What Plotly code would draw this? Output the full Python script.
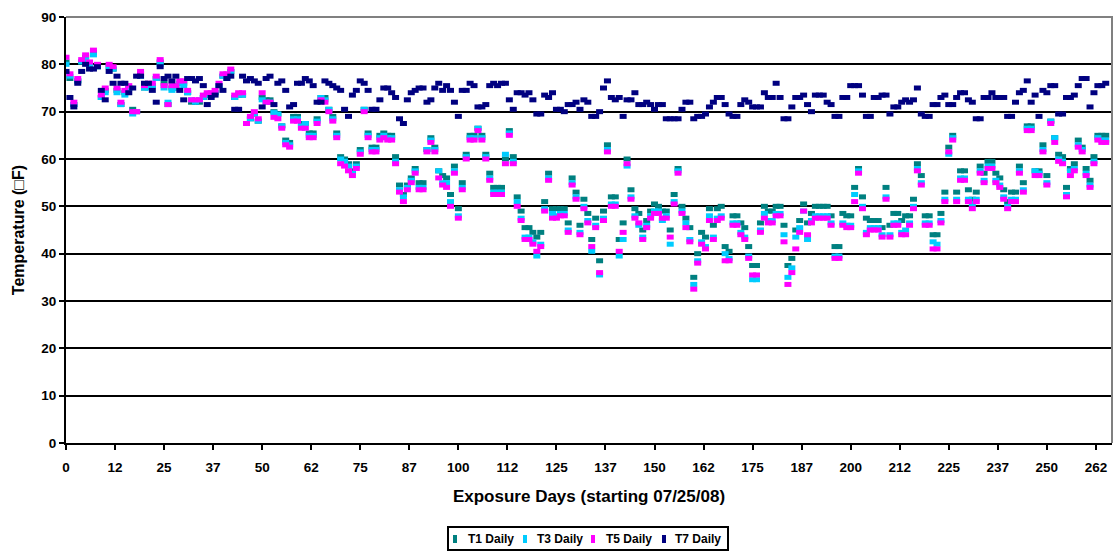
import plotly.graph_objects as go

days = list(range(266))

t7 = [78.5,73,71,76,78.5,80,79,79,79.5,74.5,72.5,78.5,76,77.5,76,76,74,75,77.5,77.5,
      76,76,74.5,72,79.5,77,77.5,76.5,77.5,74.5,72.5,77,77,76.5,77,75.5,71.5,73,73.5,75.5,
      74.5,77,77.5,70.5,70.5,77.5,76.5,77,76.5,76,71,77,77.5,71.5,76,76.5,74.5,71,71.5,76,
      76,77,76.5,75.5,72,72,76.5,76,75.5,75,74.5,70.5,69,73.5,74.5,76.5,76,74.5,70.5,70.5,
      72.5,75,75,74,73,68.5,67.5,72.5,74,74.5,75,75,72,72.5,75,76,74.5,75.5,74.5,72,
      69,74.5,74.5,76,75.5,71,71,71.5,75.5,76,75.5,76,76,72.5,70.5,74,74,73.5,74,72.5,
      69.5,69.5,73.5,73,74,70.5,70.5,70,71.5,71.5,72,70.5,72.5,72,69,69,70,75,76.5,73,
      72.5,73,69,72.5,72.5,74,71.5,71.5,72,71.5,70.5,71.5,71.5,68.5,68.5,68.5,68.5,70.5,72,72,
      68.5,69,69,69.5,71,72,73,73,71.5,69.5,69,69,71.5,72.5,72,71,71,71,74,73,
      73,76,73,68.5,68.5,71,73,73,73.5,71.5,70,73.5,73.5,73.5,72,71.5,69,69,73,73,
      75.5,75.5,75.5,73.5,69,69,73,73,73.5,73.5,69.5,71,71,72,72.5,72,72.5,75,69.5,69,
      69,71.5,71.5,73,73.5,71.5,71.5,73,74,74,72.5,72,68.5,68.5,73,73,74,73,73,73,
      69,69,72,74,74.5,76.5,72,73.5,69,74.5,74,75.5,75.5,69.5,69.5,73,73,73.5,75.5,77,
      77,71,74,75.5,75.5,76]

t5 = [81.5,78,72,77,81,82,80.5,83,80,73.5,75,80,79.5,75,72,74.5,75.5,70,70,78.5,
      75.5,76,76,77.5,81,75.5,71.5,75.5,75.5,76.5,76.5,74.5,72.5,72.5,72.5,73.5,74,74,74.5,76,
      78,78,79,73.5,74,74,67.5,69,70,68.5,74,72,72,68.8,68.5,66.5,63,62.5,68,68,
      66.5,66.5,64.5,64.5,67.5,72.5,72,70,68,64.5,59,58.5,57.5,56.5,58,61,70,64.5,61.5,61.5,
      64,64.5,64,64,59,53,51,53.5,55,57,53.5,53.5,61.5,63.5,61.5,56,54.5,54,50,57,
      47.5,53.5,60,64,64,66,64,60,55.5,52.5,52.5,52.5,59,65,59,50,47,43,43,42,
      40.5,41.5,49,55.5,47.5,47.5,48,48,44.5,54.5,51.5,44,49.5,46.5,41.5,45.5,36,47,61.5,50,
      50,40.5,44.5,59,51.5,47.5,46.5,43,45.5,47.5,48.5,48.5,47.5,47.5,43.5,50.5,57,48.5,45.5,42.5,
      32.5,38,42,41,47,43,47,47.5,38.5,38.5,46,46,44,43,39,35.5,35.5,44.5,47.5,46.5,
      46.5,48,48,42.5,33.5,36,41,44.5,49,44,46.5,47.5,47.5,47.5,47.5,46,39,39,46,45.5,
      45.5,51,57,49.5,44,45,45,45,43.5,51.5,43.5,46,46,44,44,46,49.5,57.5,54.5,46,
      46,41,41,46.5,51,61.5,64,51,55.5,55.5,51,49.5,51,57,55,58,58,55,54,51.5,
      49.5,51,51,57,53,66,66,56.5,56.5,61.5,54.5,67.5,63.5,59.5,59,52,56.5,57.5,62.5,61.5,
      56.5,54,59,64,63.5,63.5]

t3 = [80,77.5,71.5,76.5,80.5,81,80,82,79.5,73,74,79.5,79,74,71.5,73.5,75,69.5,70,77.5,
      75,75,75.5,77,80,75,72,74.5,75,76,75.5,74,72.5,72,72.5,73,73.5,73.5,74,75.5,
      77.5,77,78.5,73,73.5,73.5,67.5,68.5,69.5,68,72.5,72,72,69.8,69.5,67,63.5,63,68.5,68.5,
      67,67.5,65,65,68,73,72.5,70.5,68.5,65,60,59.5,58.5,57,58.5,61.5,70.5,65,62,62,
      64.5,65,64.5,64.5,59.5,53.5,52,54,55.5,57.5,54,54,62,64,62,57.5,55,55,51,57.5,
      48,54,60.5,64.5,64.5,66.5,64.5,60.5,56,53,53,53,61,65.5,59.5,51,47.5,43.5,43.5,42.5,
      39.5,42,49.5,56,48.5,48,48.5,48.5,45,55,52,44.5,50,47,40.5,46,35.5,47.5,62,50.5,
      50.5,39.5,43,58.5,52,48,46,43.5,46,48,49,49,47,48,42,51,57.5,49,46.5,43,
      33.5,38.5,42.5,41.5,48,43.5,47.5,48,40,39,46.5,46.5,44.5,43.5,39.5,34.5,34.5,45,48.5,47,
      47,48.5,48.5,44,35,37,43.5,45.5,49,43,47,48,48,48,48,46.5,39.5,39.5,46.5,46,
      46,52.5,57.5,50,44.5,45.5,45.5,45.5,44,52,44,46.5,46.5,44.5,45,46.5,50,58,55,46.5,
      46.5,42.5,42,47,51.5,61,64.5,51.5,56,56,51.5,50.5,51.5,57.5,55.5,58.5,58.5,55.5,54.5,52,
      50,51.5,51.5,57.5,53.5,66.5,66.5,57.5,57,62,55,68,64.5,60,59.5,52.5,57.5,58,63,62,
      57,54.5,59.5,64.5,64,64]

t1 = [80.5,77,71.5,76.5,80.5,81.5,80,82.5,79.5,73,74.5,79.5,79,74.5,71.5,74,75,70.5,70,78,
      75,75.5,75.5,77,80.5,76,71.5,75,75,76,76,74,72,72,72,73,73.5,73.5,74,75.5,
      77.5,77.5,78.5,73,73.5,73.5,67.5,68.5,69.5,68,73,72.5,72.5,70,69.5,67,64,63.5,69,69,
      67.5,67.5,65.5,65.5,68.5,73,73,70.5,69,65.5,60.5,60,59,57.5,59,62,70.5,65.5,62.5,62.5,
      65,65.5,65,65,60.5,54.5,52.5,54.5,56,58,55,55,62,64.5,62.5,57.5,56.5,56,52.5,58.5,
      49.5,55,61,65,65,66.5,65,61,57,54,54,54,60,66,60.5,52,49,45.5,45.5,44.5,
      43.5,44.5,51,57,49.5,49.5,49.5,49.5,46.5,56,53,46,51.5,48.5,43,47.5,38.5,49,63,52,
      52,43,46.5,60,53.5,49.5,48.5,45,47,49,50.5,50,49,49,45,52.5,58,50,47.5,45.5,
      35,40,44.5,43.5,49.5,46,49.5,50,41.5,40.5,48,48,46.5,45.5,41.5,37.5,37.5,46.5,50,49,
      49,50,50,46,37.5,39,45,47,50.5,46.5,48.5,50,50,50,50,48,41.5,41.5,48.5,48,
      48,54,58,52,47.5,47,47,47,45.5,54,46,48.5,48.5,47,48,48,51.5,59,56.5,48,
      48,44,44,48.5,53,62.5,65,53,57.5,57.5,53.5,51.5,53,58.5,57,59.5,59.5,57,56,53.5,
      51,53,53,58.5,55,67,67,57.5,57.5,63,56.5,68,64.5,61,60.5,54,58,59,64,62.5,
      58,55.5,60.5,65,65,65]

series_names = ["T1 Daily", "T3 Daily", "T5 Daily", "T7 Daily"]
series_values = [t1, t3, t5, t7]
series_colors = ["#008080", "#00CCFF", "#FF00FF", "#000080"]

x_tickvals = [0, 12.5, 25, 37.5, 50, 62.5, 75, 87.5, 100, 112.5, 125, 137.5, 150,
              162.5, 175, 187.5, 200, 212.5, 225, 237.5, 250, 262.5]
x_ticktext = ["0", "12", "25", "37", "50", "62", "75", "87", "100", "112", "125", "137",
              "150", "162", "175", "187", "200", "212", "225", "237", "250", "262"]
y_tickvals = [0, 10, 20, 30, 40, 50, 60, 70, 80, 90]

FONT = "Liberation Sans, Arial, sans-serif"

# plot-area geometry in pixels (for the hand-built legend box only)
L, R, T, B = 66, 1112, 17, 443
W, H = 1115, 553


def px(xp):
    return (xp - L) / (R - L)


def py(yp):
    return (B - yp) / (B - T)


fig = go.Figure()
for name, vals, col in zip(series_names, series_values, series_colors):
    fig.add_trace(go.Scatter(
        x=days, y=vals, name=name, mode="markers", showlegend=False,
        marker=dict(symbol="line-ew", size=5, color=col,
                    line=dict(color=col, width=5)),
    ))

shapes = [
    # gray plot-area border (top and right)
    dict(type="path", xref="paper", yref="paper",
         path="M 0,1 L 1,1 L 1,0", line=dict(color="#808080", width=2), layer="above"),
    # legend box
    dict(type="rect", xref="paper", yref="paper",
         x0=px(448), x1=px(728), y0=py(550), y1=py(527),
         line=dict(color="black", width=2), fillcolor="white", layer="above"),
]
annotations = []
legend_marker_x = [453, 523, 591, 662]
legend_text_x = [466, 535, 604, 673]
for name, col, mx, tx in zip(series_names, series_colors, legend_marker_x, legend_text_x):
    shapes.append(dict(type="rect", xref="paper", yref="paper",
                       x0=px(mx), x1=px(mx + 4), y0=py(543), y1=py(535),
                       line=dict(width=0), fillcolor=col, layer="above"))
    annotations.append(dict(xref="paper", yref="paper", x=px(tx), y=py(539),
                            xanchor="left", yanchor="middle", showarrow=False,
                            text=name,
                            font=dict(family=FONT, size=12, color="black", weight="bold")))

fig.update_layout(
    width=W, height=H,
    margin=dict(l=L, r=W - R, t=T, b=H - B),
    paper_bgcolor="white", plot_bgcolor="white",
    font=dict(family=FONT, size=13, color="black"),
    showlegend=False,
    shapes=shapes, annotations=annotations,
)
fig.update_xaxes(
    range=[0, 266.6], tickmode="array", tickvals=x_tickvals, ticktext=x_ticktext,
    ticks="outside", ticklen=5, tickwidth=2, tickcolor="black",
    showline=True, linecolor="black", linewidth=2, showgrid=False, zeroline=False,
    tickfont=dict(family=FONT, size=13.5, color="black", weight="bold"),
    ticklabelstandoff=6,
    title=dict(text="Exposure Days (starting 07/25/08)",
               font=dict(family=FONT, size=17, color="black", weight="bold"),
               standoff=16),
)
fig.update_yaxes(
    range=[0, 90], tickmode="array", tickvals=y_tickvals,
    ticks="outside", ticklen=5, tickwidth=2, tickcolor="black",
    showline=True, linecolor="black", linewidth=2,
    showgrid=True, gridcolor="black", gridwidth=1.5, zeroline=False,
    tickfont=dict(family=FONT, size=13.5, color="black", weight="bold"),
    title=dict(text="Temperature (\u25a1F)",
               font=dict(family=FONT, size=16, color="black", weight="bold"),
               standoff=13),
)

fig.write_html("out.html")
